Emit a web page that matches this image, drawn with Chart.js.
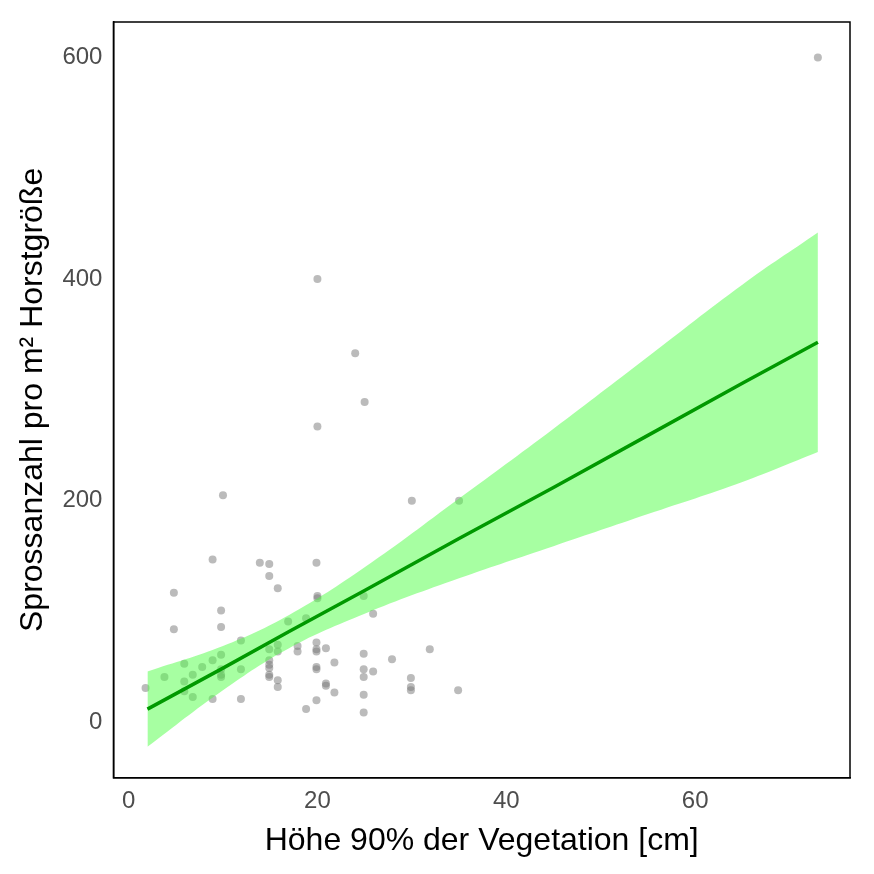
<!DOCTYPE html>
<html><head><meta charset="utf-8">
<script src="https://cdn.jsdelivr.net/npm/chart.js@4"></script>
<style>html,body{margin:0;padding:0;background:#fff}</style>
</head><body><canvas id="c" width="874" height="874"></canvas>
<script>
const hoehe=[8.9,13.9,14.9,19.9,14.9,4.8,15.8,20,20,24.9,9.8,25.9,4.8,9.8,16.9,18.8,11.9,14.9,15.8,15.8,17.9,17.9,19.9,19.9,19.9,20.9,24.9,27.9,31.9,5.9,7.8,8.9,9.8,3.8,6.8,9.8,9.8,9.8,11.9,14.9,14.9,14.9,14.9,14.9,15.8,15.8,19.9,19.9,21.8,24.9,25.9,24.9,29.9,29.9,29.9,34.9,1.8,5.9,5.9,6.8,8.9,11.9,20.9,20.9,21.8,19.9,24.9,18.8,24.9,20,24,25,20,10,30,35,73];
const spross=[147,144,143,144,132,117,121,114,112,114,101,98,84,86,91,94,74,66,70,64,69,64,72,66,64,67,62,57,66,53,50,56,61,41,43,48,43,41,48,56,52,49,43,41,38,32,50,48,54,48,46,41,40,32,29,29,31,37,28,23,21,21,35,33,27,20,25,12,9,400,333,289,267,205,200,200,600];
const fitX=[2,10,17,25,35,45,55,65,73];
const fitY=[12,49,82,119,166,212,259,306,343];
const fitLo=[-22,29,67,98,130,159,188,217,244];
const fitHi=[46,69,97,140,202,265,330,395,442];
const xTicks=[0,20,40,60], yTicks=[0,200,400,600];
const pts=hoehe.map((x,i)=>({x,y:spross[i]}));
const F='"Liberation Sans", Arial, sans-serif';
new Chart(document.getElementById('c'),{
 type:'scatter',
 data:{datasets:[
  {data:pts,order:3,pointRadius:4,pointBorderWidth:0,backgroundColor:'rgba(120,120,120,0.5)'},
  {type:'line',data:fitX.map((x,i)=>({x,y:fitLo[i]})),order:2,pointRadius:0,borderWidth:0,fill:false,tension:0.4},
  {type:'line',data:fitX.map((x,i)=>({x,y:fitHi[i]})),order:2,pointRadius:0,borderWidth:0,fill:'-1',backgroundColor:'rgba(80,255,70,0.5)',tension:0.4},
  {type:'line',data:fitX.map((x,i)=>({x,y:fitY[i]})),order:1,pointRadius:0,borderWidth:3.5,borderColor:'#009900',fill:false}
 ]},
 options:{responsive:false,animation:false,devicePixelRatio:1,
  layout:{padding:{top:22,right:24,left:10,bottom:10}},
  plugins:{legend:{display:false},tooltip:{enabled:false}},
  scales:{
   x:{type:'linear',min:-1.6,max:76.4,afterBuildTicks:a=>{a.ticks=xTicks.map(v=>({value:v}))},
    grid:{display:false,drawTicks:true,tickLength:7,tickColor:'#333'},border:{color:'#000',width:1.5},
    ticks:{color:'#4d4d4d',font:{family:F,size:24},padding:2},
    title:{display:true,text:'Höhe 90% der Vegetation [cm]',color:'#000',font:{family:F,size:32},padding:{top:4}}},
   y:{min:-50,max:632,afterBuildTicks:a=>{a.ticks=yTicks.map(v=>({value:v}))},
    grid:{display:false,tickLength:7,tickColor:'#333'},border:{color:'#000',width:1.5},
    ticks:{color:'#4d4d4d',font:{family:F,size:24},padding:4},
    title:{display:true,text:'Sprossanzahl pro m² Horstgröße',color:'#000',font:{family:F,size:32},padding:{bottom:6}}}
  }},
 plugins:[{id:'box',afterDraw(c){const a=c.chartArea,x=c.ctx;x.save();x.strokeStyle='#000';x.lineWidth=1.5;x.strokeRect(a.left,a.top,a.right-a.left,a.bottom-a.top);x.restore();}}]
});
</script></body></html>
